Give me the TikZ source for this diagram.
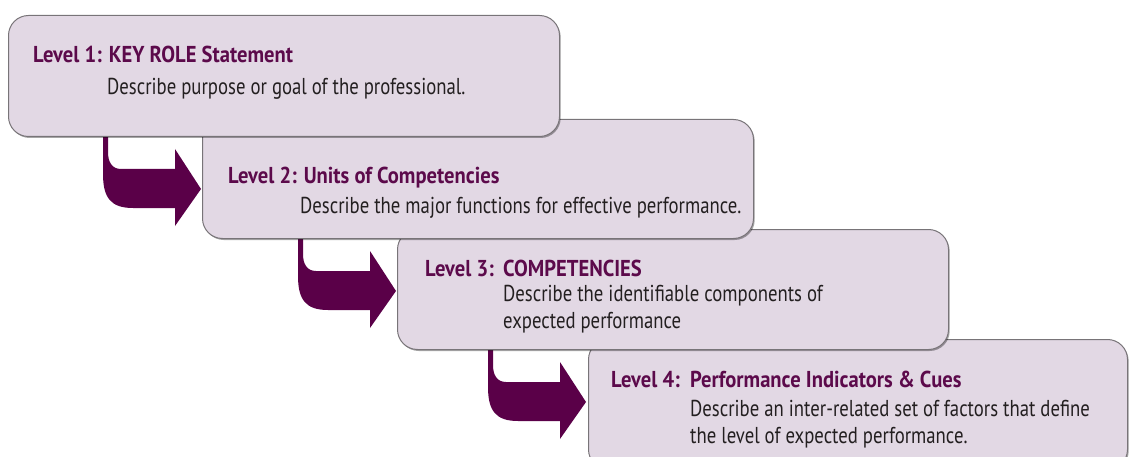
\documentclass[tikz,border=0pt]{standalone}
\usepackage{fontspec}
\setmainfont{PT Sans}[FakeStretch=0.815, BoldFeatures={FakeStretch=0.895}]
\usetikzlibrary{calc,shadows}
\definecolor{boxfill}{RGB}{226,216,228}
\definecolor{boxline}{RGB}{120,116,120}
\definecolor{titlecol}{RGB}{92,10,75}
\definecolor{arrowcol}{RGB}{90,0,72}
\definecolor{desccol}{RGB}{35,31,32}
\tikzset{
  levelbox/.style={draw=boxline, line width=1pt, fill=boxfill, rounded corners=20pt,
    rectangle, anchor=north west, inner sep=0pt, minimum width=551pt, minimum height=120pt,
    drop shadow={shadow xshift=1.2pt, shadow yshift=-1.5pt, opacity=0.35, fill=black}},
  titletext/.style={anchor=base west, inner sep=0pt, text=titlecol, font=\fontsize{23}{27}\selectfont\bfseries},
  desctext/.style={anchor=base west, inner sep=0pt, text=desccol, align=left, font=\fontsize{23}{27}\selectfont},
  bentarrow/.pic={\fill[arrowcol] (0,-14) -- (0,38) .. controls (0,62) and (8,72) .. (30,72)
     -- (72,72) -- (72,90) -- (98,53) -- (72,13) -- (72,33) -- (18,33)
     .. controls (9,33) and (5,26) .. (5,16) -- (5,-14) -- cycle;}
}
\begin{document}
\begin{tikzpicture}[x=1pt,y=-1pt]
\useasboundingbox (0,0) rectangle (1129,457);
\clip (0,0) rectangle (1129,457);
% level 4
\node[levelbox, minimum width=539pt, minimum height=130pt] (b4) at (588,339) {};
\node[titletext] (t4a) at (611,387) {Level 4:};
\node[titletext] (t4b) at (690,387) {Performance Indicators \& Cues};
\node[desctext] (d4) at (690,443) {Describe an inter-related set of factors that define\\the level of expected performance.};
\pic at ($(b4.north west)+(-100,10)$) {bentarrow};
% level 3
\node[levelbox] (b3) at (397,229) {};
\node[titletext] (t3a) at (425,276) {Level 3:};
\node[titletext] (t3b) at (503,276) {COMPETENCIES};
\node[desctext] (d3) at (503,328) {Describe the identifiable components of\\expected performance};
\pic at ($(b3.north west)+(-99,9)$) {bentarrow};
% level 2
\node[levelbox, minimum height=119pt] (b2) at (202,119) {};
\node[titletext] (t2) at (228,183) {Level 2: Units of Competencies};
\node[desctext] (d2) at (300,214) {Describe the major functions for effective performance.};
\pic at ($(b2.north west)+(-99,17)$) {bentarrow};
% level 1
\node[levelbox, minimum height=121pt] (b1) at (8,15) {};
\node[titletext] (t1) at (33,63) {Level 1: KEY ROLE Statement};
\node[desctext] (d1) at (107,95) {Describe purpose or goal of the professional.};
\end{tikzpicture}
\end{document}
